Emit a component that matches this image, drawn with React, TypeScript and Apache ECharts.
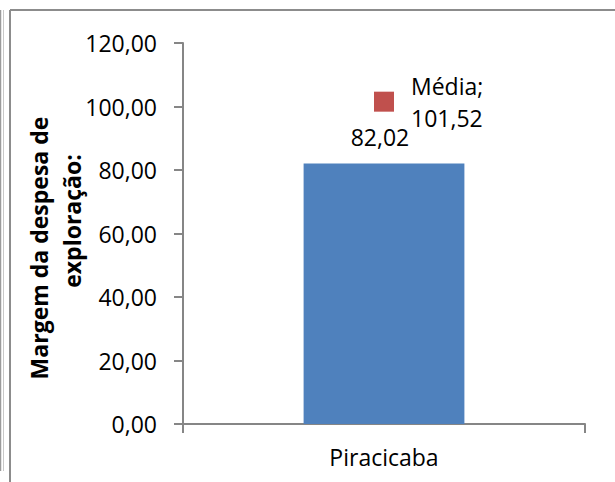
import React, { useEffect, useRef } from "react";
import * as echarts from "echarts";

const categories = ["Piracicaba"];
const barValues = [82.02];
const mediaValues = [101.52];
const mediaName = "Média";
const yTicks = { min: 0, max: 120, interval: 20 };
const yTitleLines = ["Margem da despesa de", "exploração:"];

const FONT = "Open Sans";
const FS = 23;
const fmt = (v: number) => v.toFixed(2).replace(".", ",");

export default function App() {
  const ref = useRef<HTMLDivElement>(null);
  useEffect(() => {
    if (!ref.current) return;
    const chart = echarts.init(ref.current, undefined, { renderer: "svg" });
    const axisColor = "#868686";
    const titleStyle = { fill: "#000", font: `bold ${FS}px "${FONT}"`, align: "center", verticalAlign: "middle" };
    chart.setOption({
      animation: false,
      textStyle: { fontFamily: FONT },
      grid: { left: 183, right: 30, top: 43, bottom: 58 },
      xAxis: {
        type: "category",
        data: categories,
        axisLine: { lineStyle: { color: axisColor, width: 2 } },
        axisTick: { show: true, length: 9, lineStyle: { color: axisColor, width: 2 } },
        axisLabel: { color: "#000", fontSize: FS, fontFamily: FONT, margin: 21 },
      },
      yAxis: {
        type: "value",
        min: yTicks.min,
        max: yTicks.max,
        interval: yTicks.interval,
        axisLine: { show: true, lineStyle: { color: axisColor, width: 2 } },
        axisTick: { show: true, length: 9, lineStyle: { color: axisColor, width: 2 } },
        splitLine: { show: false },
        axisLabel: { color: "#000", fontSize: FS, fontFamily: FONT, margin: 26, formatter: (v: number) => fmt(v) },
      },
      series: [
        {
          type: "bar",
          data: barValues,
          barWidth: "40%",
          itemStyle: { color: "#4F81BD" },
          label: {
            show: true,
            position: "top",
            distance: 15,
            offset: [-4, 0],
            color: "#000",
            fontSize: FS,
            fontFamily: FONT,
            formatter: (p: any) => fmt(p.value),
          },
        },
        {
          type: "scatter",
          name: mediaName,
          data: mediaValues,
          symbol: "rect",
          symbolSize: 20,
          itemStyle: { color: "#C0504D", opacity: 1 },
          label: {
            show: true,
            position: "right",
            distance: 17,
            color: "#000",
            opacity: 1,
            fontSize: FS,
            fontFamily: FONT,
            lineHeight: 32,
            formatter: (p: any) => `${p.seriesName};\n${fmt(p.value)}`,
          },
        },
      ],
      graphic: [
        { type: "line", shape: { x1: 10, y1: 10, x2: 615, y2: 10 }, style: { stroke: "#8c8c8c", lineWidth: 2 } },
        { type: "line", shape: { x1: 10, y1: 10, x2: 10, y2: 482 }, style: { stroke: "#8c8c8c", lineWidth: 2 } },
        { type: "line", shape: { x1: 0.5, y1: 10, x2: 0.5, y2: 471 }, style: { stroke: "#9a9a9a", lineWidth: 1.5 } },
        { type: "line", shape: { x1: 3.5, y1: 10, x2: 3.5, y2: 471 }, style: { stroke: "#c8c8c8", lineWidth: 1 } },
        { type: "text", x: 39, y: 248, rotation: Math.PI / 2, style: { ...titleStyle, text: yTitleLines[0] } },
        { type: "text", x: 72, y: 221, rotation: Math.PI / 2, style: { ...titleStyle, text: yTitleLines[1] } },
      ],
    });
    return () => chart.dispose();
  }, []);
  return <div ref={ref} style={{ width: 615, height: 482, position: "absolute", left: 0, top: 0 }} />;
}
